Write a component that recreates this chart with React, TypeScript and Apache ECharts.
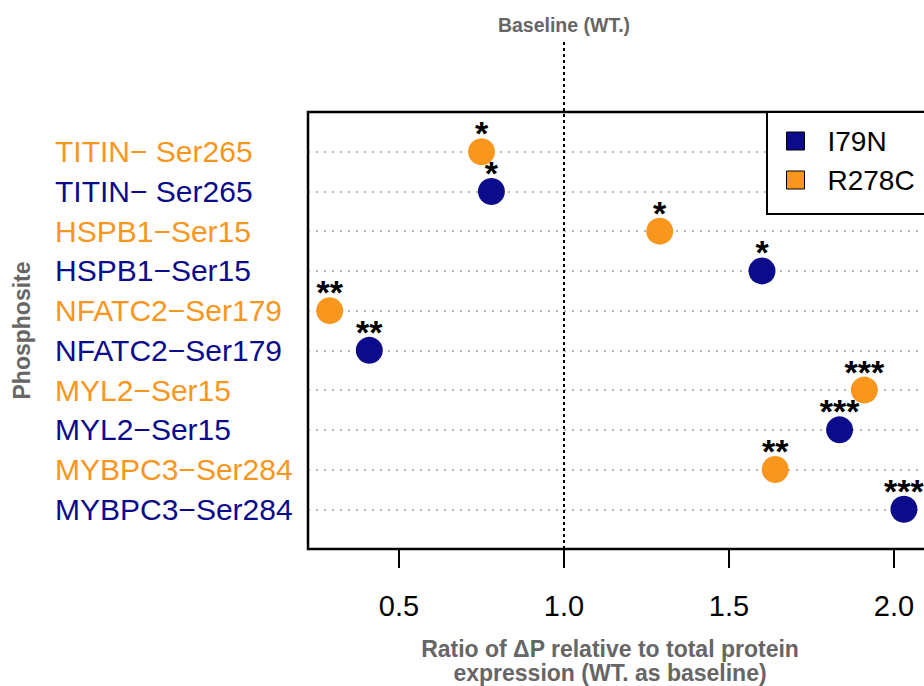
import React, { useEffect, useRef } from "react";
import * as echarts from "echarts";

// Phosphosites, top to bottom; each has an R278C row above an I79N row
const sites = ["TITIN− Ser265", "HSPB1−Ser15", "NFATC2−Ser179", "MYL2−Ser15", "MYBPC3−Ser284"];
const i79nRatio = [0.78, 1.6, 0.41, 1.835, 2.03];
const r278cRatio = [0.75, 1.29, 0.29, 1.91, 1.64];
const i79nSig = ["*", "*", "**", "***", "***"];
const r278cSig = ["*", "*", "**", "***", "**"];
const xTicks = [0.5, 1.0, 1.5, 2.0];
const baseline = 1.0;
const xTitleLines = ["Ratio of ΔP relative to total protein", "expression (WT. as baseline)"];

const ORANGE = "#F8961E";
const NAVY = "#0B0B8C";
const GREY_TITLE = "#666666";
const FONT = "'Liberation Sans', Arial, Helvetica, sans-serif";

const rowOf = (k: number, mutant: "I79N" | "R278C") => (mutant === "R278C" ? 10 - 2 * k : 9 - 2 * k);

export default function App() {
  const ref = useRef<HTMLDivElement>(null);

  useEffect(() => {
    if (!ref.current) return;
    const chart = echarts.init(ref.current, undefined, { renderer: "svg" });

    const starLabel = {
      show: true,
      position: "top" as const,
      distance: -12,
      fontSize: 34,
      fontWeight: "bold" as const,
      color: "#000",
      fontFamily: FONT,
    };

    chart.setOption({
      animation: false,
      textStyle: { fontFamily: FONT },
      grid: {
        left: 308,
        top: 112,
        width: 637,
        height: 437,
        show: false,
      },
      xAxis: {
        type: "value",
        min: 0.2242,
        max: 2.1545,
        axisLine: { show: false },
        axisTick: {
          show: true,
          customValues: xTicks,
          length: 19,
          lineStyle: { color: "#000", width: 2 },
        },
        axisLabel: {
          customValues: xTicks,
          formatter: (v: number) => v.toFixed(1),
          fontSize: 29,
          color: "#000",
          margin: 42,
          fontFamily: FONT,
        },
        splitLine: { show: false },
      },
      yAxis: {
        type: "value",
        min: 0,
        max: 11,
        interval: 1,
        axisLine: { show: false },
        axisTick: { show: false },
        splitLine: {
          show: true,
          showMinLine: false,
          showMaxLine: false,
          lineStyle: { color: "#b8b8b8", width: 2, type: [2, 6] },
        },
        axisLabel: {
          align: "left",
          margin: 253,
          fontSize: 30,
          fontFamily: FONT,
          formatter: (v: number) => {
            const r = Math.round(v);
            if (r < 1 || r > 10) return "";
            const k = Math.floor((10 - r) / 2);
            const isR = (10 - r) % 2 === 0;
            return `{${isR ? "o" : "b"}|${sites[k]}}`;
          },
          rich: {
            o: { color: ORANGE, fontSize: 30, fontFamily: FONT },
            b: { color: NAVY, fontSize: 30, fontFamily: FONT },
          },
        },
      },
      legend: {
        orient: "vertical",
        left: 767,
        top: 112,
        padding: [15, 60, 20, 19],
        itemGap: 11,
        itemWidth: 18,
        itemHeight: 18,
        icon: "rect",
        itemStyle: { borderColor: "#000", borderWidth: 1 },
        textStyle: { fontSize: 28, lineHeight: 28, color: "#000", padding: [0, 0, 0, 18], fontFamily: FONT },
        borderColor: "#000",
        borderWidth: 2,
        backgroundColor: "#fff",
        data: ["I79N", "R278C"],
      },
      series: [
        {
          name: "I79N",
          type: "scatter",
          symbol: "circle",
          symbolSize: 27,
          itemStyle: { color: NAVY, opacity: 1 },
          label: { ...starLabel, formatter: (p: any) => i79nSig[p.dataIndex] },
          data: i79nRatio.map((v, k) => [v, rowOf(k, "I79N")]),
          z: 3,
        },
        {
          name: "R278C",
          type: "scatter",
          symbol: "circle",
          symbolSize: 27,
          itemStyle: { color: ORANGE, opacity: 1 },
          label: { ...starLabel, formatter: (p: any) => r278cSig[p.dataIndex] },
          data: r278cRatio.map((v, k) => [v, rowOf(k, "R278C")]),
          z: 3,
        },
      ],
    });

    // Plot frame, baseline marker and axis titles, placed from the axis scales
    const bx = chart.convertToPixel({ xAxisIndex: 0 }, baseline) as number;
    const xLeft = chart.convertToPixel({ xAxisIndex: 0 }, 0.2242) as number;
    const xRight = chart.convertToPixel({ xAxisIndex: 0 }, 2.1545) as number;
    const yBottom = chart.convertToPixel({ yAxisIndex: 0 }, 0) as number;
    const yTop = chart.convertToPixel({ yAxisIndex: 0 }, 11) as number;

    const titleStyle = {
      fontSize: 23,
      fontWeight: "bold" as const,
      fontFamily: FONT,
      fill: GREY_TITLE,
      textAlign: "center" as const,
      textVerticalAlign: "middle" as const,
    };

    chart.setOption({
      graphic: [
        {
          id: "frame",
          type: "rect",
          z: 2,
          shape: { x: xLeft, y: yTop, width: xRight - xLeft, height: yBottom - yTop },
          style: { fill: "none", stroke: "#000", lineWidth: 2.5 },
        },
        {
          id: "baseline-line",
          type: "line",
          z: 1,
          shape: { x1: bx, y1: 42, x2: bx, y2: yBottom },
          style: { stroke: "#000", lineWidth: 2, lineDash: [3, 3] },
        },
        {
          id: "baseline-text",
          type: "text",
          x: bx,
          y: 25,
          style: { ...titleStyle, text: "Baseline (WT.)", fontSize: 19.5 },
        },
        {
          id: "y-title",
          type: "text",
          x: 22,
          y: (yTop + yBottom) / 2,
          rotation: Math.PI / 2,
          style: { ...titleStyle, text: "Phosphosite" },
        },
        {
          id: "x-title-1",
          type: "text",
          x: 610,
          y: 649,
          style: { ...titleStyle, text: xTitleLines[0] },
        },
        {
          id: "x-title-2",
          type: "text",
          x: 610,
          y: 672.5,
          style: { ...titleStyle, text: xTitleLines[1] },
        },
      ],
    });

    return () => chart.dispose();
  }, []);

  return (
    <div
      style={{ position: "fixed", left: 0, top: 0, width: 924, height: 686, overflow: "hidden", background: "#fff" }}
    >
      <div ref={ref} style={{ width: 1000, height: 686 }} />
    </div>
  );
}
